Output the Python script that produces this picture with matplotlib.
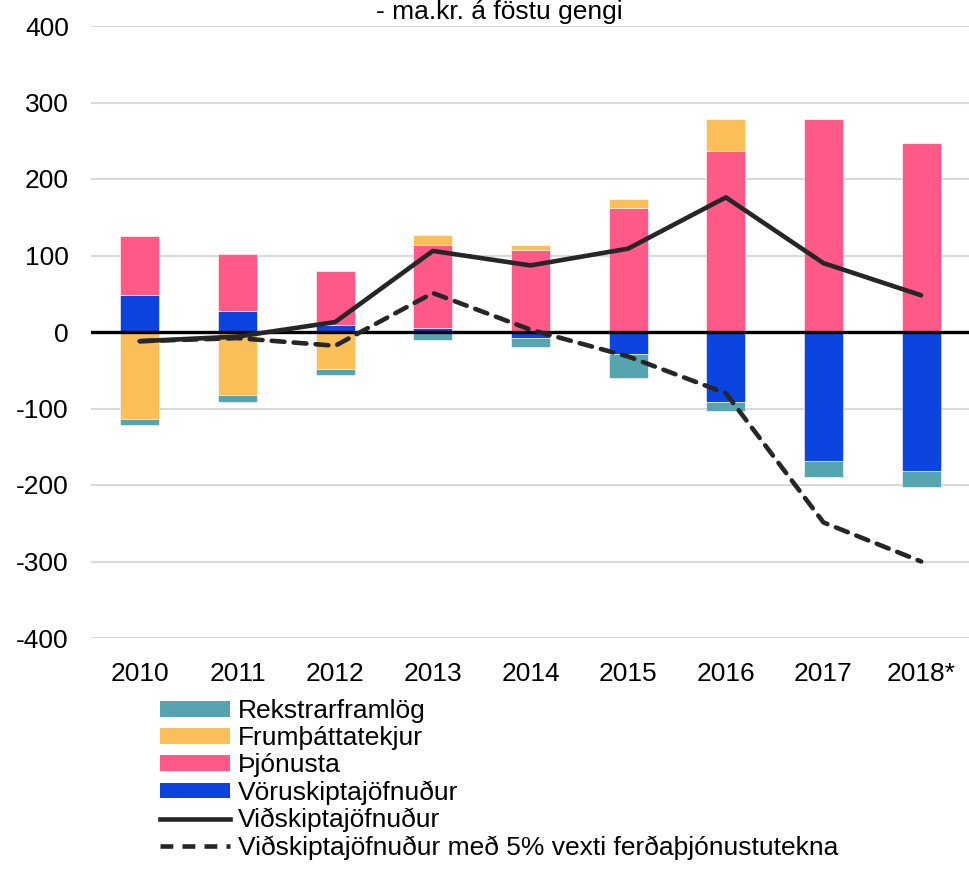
import matplotlib
matplotlib.use("Agg")
import matplotlib.pyplot as plt
from matplotlib.patches import Patch
from matplotlib.lines import Line2D
import numpy as np

plt.rcParams['font.family'] = ['Liberation Sans', 'DejaVu Sans']
plt.rcParams['axes.unicode_minus'] = False

years = ['2010', '2011', '2012', '2013', '2014', '2015', '2016', '2017', '2018*']
voruskipta = [48, 28, 9, 5, -7.5, -29, -91.5, -168.5, -182]
thjonusta = [77, 74, 71, 109, 107.5, 162.5, 236.5, 278, 246.5]
frumthatta = [-114, -83, -49, 13, 6.5, 11.5, 41.5, 0, 0]
rekstrar = [-8, -9, -7, -10, -11.5, -31.5, -11.5, -20.5, -20]
vidskipta = [-12, -6, 13, 106, 87, 109, 176, 90, 48]
vidskipta_5 = [-12, -8, -18, 51, 3, -32, -80, -249, -300]

title = '- ma.kr. á föstu gengi'
labels = ['Rekstrarframlög', 'Frumþáttatekjur', 'Þjónusta', 'Vöruskiptajöfnuður',
          'Viðskiptajöfnuður', 'Viðskiptajöfnuður með 5% vexti ferðaþjónustutekna']

c_teal = '#55A4AF'
c_orange = '#FBBF5A'
c_pink = '#FF5A87'
c_blue = '#0B44E1'
c_line = '#262626'
fs = 19

fig = plt.figure(figsize=(9.70, 8.69), dpi=100)
ax = fig.add_axes([91/970, 1 - 638/869, 1 - 91/970, (638 - 26)/869])

x = np.arange(len(years))
w = 0.4
pos_base = np.zeros(len(years))
neg_base = np.zeros(len(years))
series = [(voruskipta, c_blue), (thjonusta, c_pink), (frumthatta, c_orange), (rekstrar, c_teal)]
for vals, col in series:
    v = np.array(vals, dtype=float)
    bottoms = np.where(v >= 0, pos_base, neg_base)
    ax.bar(x, v, w, bottom=bottoms, color=col, edgecolor='white', linewidth=0.4, zorder=2)
    pos_base = pos_base + np.where(v >= 0, v, 0)
    neg_base = neg_base + np.where(v < 0, v, 0)

ax.axhline(0, color='black', linewidth=2.4, zorder=3)
ax.plot(x, vidskipta, color=c_line, linewidth=3.3, zorder=4, solid_capstyle='round')
ax.plot(x, vidskipta_5, color=c_line, linewidth=3.3, zorder=4, dashes=(2.8, 2.0),
        dash_capstyle='round')

ax.set_xlim(-0.5, len(years) - 0.5)
ax.set_ylim(-400, 400)
ax.set_yticks(np.arange(-400, 401, 100))
ax.set_xticks(x)
ax.set_xticklabels(years)
ax.tick_params(axis='both', length=0, labelsize=fs, colors='black')
ax.tick_params(axis='y', pad=16)
ax.tick_params(axis='x', pad=17.5)
ax.grid(axis='y', color='#D9D9D9', linewidth=1.5, zorder=0)
ax.set_axisbelow(True)
for s in ax.spines.values():
    s.set_visible(False)

fig.text(0.515, 1 - 19/869, title, ha='center', va='baseline', fontsize=fs)

handles = [Patch(facecolor=c_teal), Patch(facecolor=c_orange), Patch(facecolor=c_pink),
           Patch(facecolor=c_blue),
           Line2D([], [], color=c_line, linewidth=3.3),
           Line2D([], [], color=c_line, linewidth=3.3, dashes=(2.8, 2.0))]
fig.legend(handles, labels, loc='upper left', bbox_to_anchor=(160/970, 1 - 699/869),
           frameon=False, fontsize=fs, handlelength=2.65, handleheight=0.55,
           handletextpad=0.3, labelspacing=0.12, borderpad=0, borderaxespad=0)

fig.savefig('out.png', dpi=100)
